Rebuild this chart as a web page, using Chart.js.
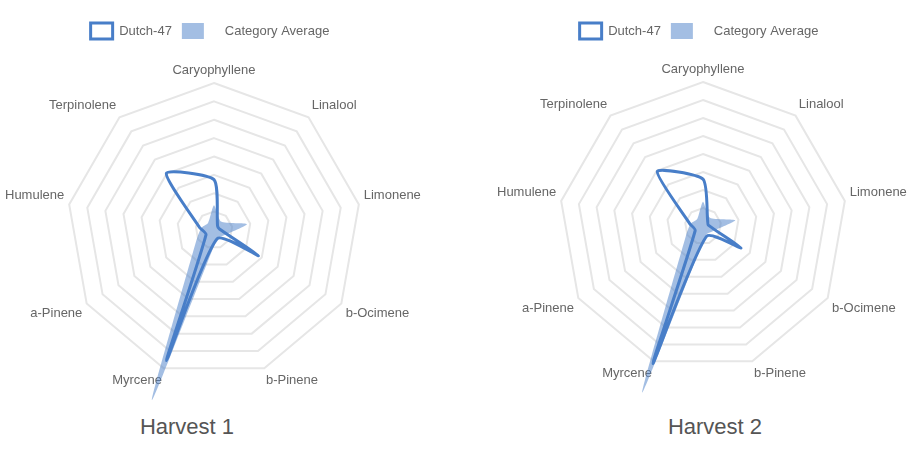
<!DOCTYPE html>
<html>
<head>
<meta charset="utf-8">
<script src="https://cdn.jsdelivr.net/npm/chart.js@4/dist/chart.umd.min.js"></script>
<style>
  body { margin: 0; background: #fff; font-family: "Liberation Sans", Arial, sans-serif; }
  .wrap { position: relative; width: 918px; height: 450px; }
  .box { position: absolute; top: 1px; }
  .caption { position: absolute; top: 414px; width: 200px; text-align: center; font-size: 22px; color: #555; }
</style>
</head>
<body>
<div class="wrap">
  <div class="box" style="left:4px;width:418px;height:400px"><canvas id="chart1"></canvas></div>
  <div class="box" style="left:496px;width:412px;height:393px"><canvas id="chart2"></canvas></div>
  <div class="caption" style="left:87px">Harvest 1</div>
  <div class="caption" style="left:615px">Harvest 2</div>
</div>
<script>
const terpenes = ['Caryophyllene', 'Linalool', 'Limonene', 'b-Ocimene', 'b-Pinene', 'Myrcene', 'a-Pinene', 'Humulene', 'Terpinolene'];
const harvest1Strain = [2.74, 0.3, 0.3, 2.8, 0.5, 7.56, 0.5, 0.8, 4.03];
const harvest2Strain = [2.6, 0.4, 0.3, 2.44, 0.6, 8.13, 0.5, 0.75, 3.95];
const categoryAverage = [1.35, 0.6, 1.82, 0.6, 0.5, 9.85, 1.1, 0.7, 0.5];

const strainName = 'Dutch-47';
const averageName = '    Category Average';

const lineBlue = 'rgb(72, 126, 200)';
const fillBlue = 'rgba(72, 126, 200, 0.5)';

// the legend sits a few px left of the radar centre in the original
const legendShift = {
    id: 'legendShift',
    afterLayout(chart, args, opts) {
        chart.legend.left += opts.dx;
        chart.legend.right += opts.dx;
    }
};

function makeRadar(canvasId, strainData, dx) {
    const ctx = document.getElementById(canvasId).getContext('2d');
    return new Chart(ctx, {
        type: 'radar',
        plugins: [legendShift],
        data: {
            labels: terpenes,
            datasets: [
                {
                    label: strainName,
                    data: strainData,
                    borderColor: lineBlue,
                    backgroundColor: 'rgba(0,0,0,0)',
                    borderWidth: 3,
                    fill: false,
                    tension: 0.2,
                    pointRadius: 0,
                    pointHoverRadius: 0
                },
                {
                    label: averageName,
                    data: categoryAverage,
                    borderColor: 'rgba(0,0,0,0)',
                    backgroundColor: fillBlue,
                    borderWidth: 0,
                    fill: true,
                    tension: 0.2,
                    pointRadius: 0,
                    pointHoverRadius: 0
                }
            ]
        },
        options: {
            responsive: true,
            maintainAspectRatio: false,
            animation: false,
            layout: { padding: { top: 12 } },
            plugins: {
                legendShift: { dx: dx },
                legend: {
                    labels: {
                        boxWidth: 22,
                        boxHeight: 16,
                        color: '#666',
                        font: { size: 13, family: '"Liberation Sans", Arial, sans-serif' }
                    }
                },
                tooltip: { enabled: false }
            },
            scales: {
                r: {
                    min: 0,
                    max: 8,
                    ticks: { display: false, stepSize: 1 },
                    angleLines: { display: false },
                    grid: { color: '#e6e6e6', lineWidth: 2 },
                    pointLabels: {
                        color: '#666',
                        padding: 5,
                        font: { size: 13, family: '"Liberation Sans", Arial, sans-serif' }
                    }
                }
            }
        }
    });
}

makeRadar('chart1', harvest1Strain, -3);
makeRadar('chart2', harvest2Strain, -3);
</script>
</body>
</html>
